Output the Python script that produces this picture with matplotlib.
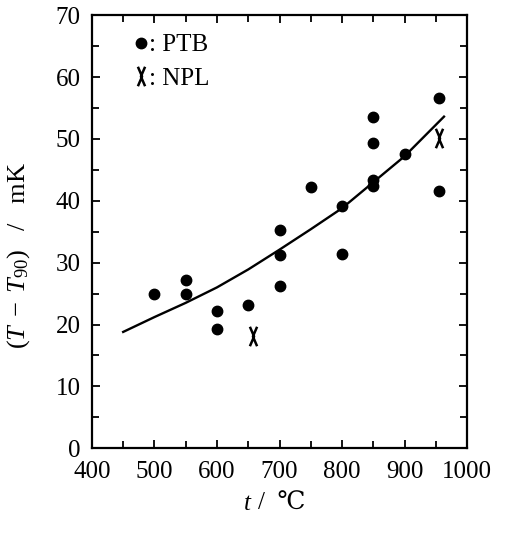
import numpy as np
import matplotlib
matplotlib.use('Agg')
from matplotlib import pyplot as plt
from matplotlib.path import Path
from matplotlib.lines import Line2D
from matplotlib.ticker import MultipleLocator

plt.rcParams['font.family'] = ['Liberation Serif', 'DejaVu Serif']
plt.rcParams['mathtext.fontset'] = 'custom'
plt.rcParams['mathtext.rm'] = 'Liberation Serif'
plt.rcParams['mathtext.it'] = 'Liberation Serif:italic'

# PTB measurements
ptb_t = [500, 550, 550, 600, 600, 650, 700, 700, 700, 750, 800, 800,
         850, 850, 850, 850, 900, 955, 955]
ptb_dt = [25.0, 27.2, 25.0, 22.2, 19.2, 23.2, 35.2, 31.2, 26.3, 42.2, 39.2, 31.4,
          53.5, 49.4, 43.3, 42.4, 47.5, 56.6, 41.6]

# NPL measurements
npl_t = [657, 955]
npl_dt = [18.1, 50.2]

# fitted curve
fit_t = [450, 500, 550, 600, 650, 700, 750, 800, 850, 900, 963]
fit_dt = [18.8, 21.2, 23.5, 26.0, 28.9, 32.1, 35.4, 38.8, 43.0, 47.2, 53.6]

# narrow X marker like the one in the figure
npl_marker = Path([(-0.37, 1), (0.06, 0), (-0.37, -1), (0.37, 1), (-0.06, 0), (0.37, -1)],
                  [Path.MOVETO, Path.LINETO, Path.LINETO,
                   Path.MOVETO, Path.LINETO, Path.LINETO])

fig = plt.figure(figsize=(5.05, 5.42), dpi=100)
ax = fig.add_axes([0.182, 0.173, 0.743, 0.799])

ax.plot(fit_t, fit_dt, color='black', lw=1.7)
ax.plot(ptb_t, ptb_dt, 'o', color='black', ms=7.5, ls='none')
ax.plot(npl_t, npl_dt, marker=npl_marker, color='black', ms=14, mew=1.8,
        ls='none', fillstyle='none')

ax.set_xlim(400, 1000)
ax.set_ylim(0, 70)
ax.xaxis.set_major_locator(MultipleLocator(100))
ax.xaxis.set_minor_locator(MultipleLocator(50))
ax.yaxis.set_major_locator(MultipleLocator(10))
ax.yaxis.set_minor_locator(MultipleLocator(5))
ax.tick_params(which='both', direction='in', top=True, right=True, width=1.3)
ax.tick_params(which='major', length=6, labelsize=18)
ax.tick_params(which='minor', length=5)
ax.tick_params(axis='x', which='major', pad=9)
ax.tick_params(axis='y', which='major', pad=8)
for s in ax.spines.values():
    s.set_linewidth(1.6)

# x label: italic t, upright degree sign
ax.text(0.427, -0.128, r'$t$', transform=ax.transAxes, fontsize=18,
        ha='right', va='center')
ax.text(0.443, -0.128, '/  \u2103', transform=ax.transAxes, fontsize=18,
        ha='left', va='center')

ax.set_ylabel(r'$(T\;-\;T_{90})$   /   mK', fontsize=19)
ax.yaxis.set_label_coords(-0.16, 0.446)

handles = [Line2D([], [], marker='o', color='black', ms=7.5, ls='none'),
           Line2D([], [], marker=npl_marker, color='black', ms=14, mew=1.8,
                  ls='none', fillstyle='none')]
ax.legend(handles, [': PTB', ': NPL'], loc='upper left', frameon=False,
          fontsize=18, handlelength=0.4, handletextpad=0.15, labelspacing=0.45,
          borderaxespad=0.0, bbox_to_anchor=(0.09, 0.98))

fig.savefig('out.png', dpi=100)
